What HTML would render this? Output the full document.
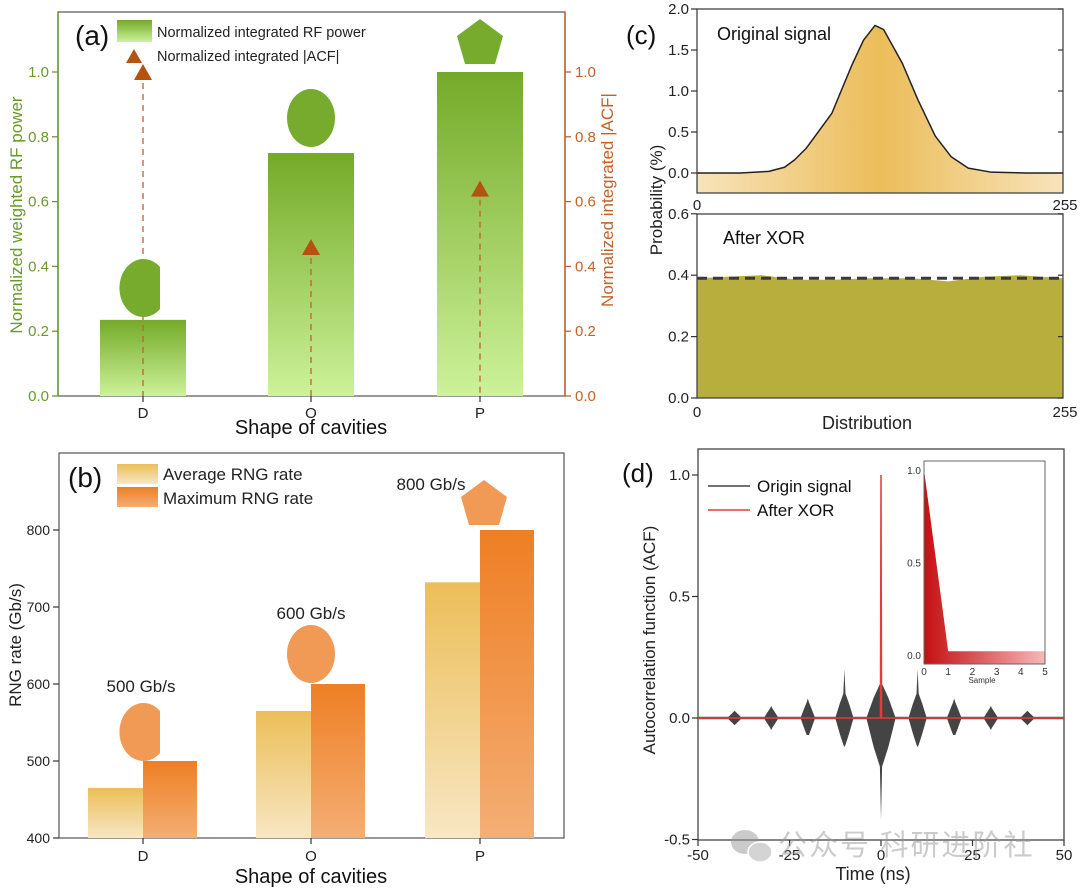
<!DOCTYPE html>
<html><head><meta charset="utf-8">
<style>
html,body{margin:0;padding:0;background:#fff;}
svg{display:block;font-family:"Liberation Sans","Noto Sans CJK SC",sans-serif;}
</style></head>
<body>
<svg id="fig" width="1080" height="889" viewBox="0 0 1080 889" xmlns="http://www.w3.org/2000/svg">
<defs>
<linearGradient id="gGreen" x1="0" y1="0" x2="0" y2="1"><stop offset="0" stop-color="#74aa28"/><stop offset="1" stop-color="#cdf29a"/></linearGradient>
<linearGradient id="gAvg" x1="0" y1="0" x2="0" y2="1"><stop offset="0" stop-color="#ebbe58"/><stop offset="1" stop-color="#f8e7c4"/></linearGradient>
<linearGradient id="gMax" x1="0" y1="0" x2="0" y2="1"><stop offset="0" stop-color="#ee7f24"/><stop offset="1" stop-color="#f4ae74"/></linearGradient>
<linearGradient id="gGauss" x1="0" y1="0" x2="1" y2="0"><stop offset="0" stop-color="#f7e4bb"/><stop offset="0.5" stop-color="#ebbd5a"/><stop offset="1" stop-color="#f7e4bb"/></linearGradient>
<linearGradient id="gRed" x1="0" y1="0" x2="1" y2="0"><stop offset="0" stop-color="#c40f12"/><stop offset="1" stop-color="#f7b8b8"/></linearGradient>
</defs>

<g>
<rect x="58" y="12" width="507" height="384" fill="none" stroke="#555" stroke-width="1.2"/>
<line x1="58" y1="12" x2="58" y2="396" stroke="#6a9a2a" stroke-width="1.5"/>
<line x1="565" y1="12" x2="565" y2="396" stroke="#c0622a" stroke-width="1.5"/>
<text x="75" y="45" font-size="28" fill="#111">(a)</text>
<rect x="117" y="20" width="35" height="22" fill="url(#gGreen)"/>
<text x="157" y="37" font-size="14.5" fill="#222">Normalized integrated RF power</text>
<polygon points="126,63 134,49 142,63" fill="#b4520f"/>
<text x="157" y="61" font-size="14.5" fill="#222">Normalized integrated |ACF|</text>
<text transform="translate(22,215) rotate(-90)" text-anchor="middle" font-size="17" fill="#6a9a2a">Normalized weighted RF power</text>
<text transform="translate(613,200) rotate(-90)" text-anchor="middle" font-size="17" fill="#c0622a">Normalized integrated |ACF|</text>
<text x="311" y="434" text-anchor="middle" font-size="20" fill="#111">Shape of cavities</text>
<g id="aMarks"></g>
</g>

<g>
<rect x="59" y="453" width="505" height="385" fill="none" stroke="#555" stroke-width="1.2"/>
<text x="68" y="487" font-size="28" fill="#111">(b)</text>
<rect x="117" y="464" width="41" height="20" fill="url(#gAvg)"/>
<text x="163" y="480" font-size="17" fill="#222">Average RNG rate</text>
<rect x="117" y="487" width="41" height="20" fill="url(#gMax)"/>
<text x="163" y="504" font-size="17" fill="#222">Maximum RNG rate</text>
<text transform="translate(21,645) rotate(-90)" text-anchor="middle" font-size="17" fill="#222">RNG rate (Gb/s)</text>
<text x="311" y="883" text-anchor="middle" font-size="20" fill="#111">Shape of cavities</text>
<g id="bMarks"></g>
</g>

<g>
<text x="626" y="44" font-size="26" fill="#111">(c)</text>
<text transform="translate(662,200) rotate(-90)" text-anchor="middle" font-size="17" fill="#222">Probability (%)</text>
<text x="867" y="429" text-anchor="middle" font-size="18" fill="#222">Distribution</text>
<g id="cMarks"></g>
<text x="717" y="40" font-size="18" fill="#111">Original signal</text>
<text x="723" y="244" font-size="18" fill="#111">After XOR</text>
</g>

<g>
<text x="622" y="482" font-size="26" fill="#111">(d)</text>
<text transform="translate(655,640) rotate(-90)" text-anchor="middle" font-size="17" fill="#222">Autocorrelation function (ACF)</text>
<text x="873" y="880" text-anchor="middle" font-size="18" fill="#222">Time (ns)</text>
<g id="dMarks"></g>
<line x1="708" y1="486" x2="750" y2="486" stroke="#444" stroke-width="1.5"/>
<text x="757" y="492" font-size="17" fill="#111">Origin signal</text>
<line x1="708" y1="510" x2="750" y2="510" stroke="#e83a3a" stroke-width="1.5"/>
<text x="757" y="516" font-size="17" fill="#111">After XOR</text>
<g opacity="0.5">
<ellipse cx="745" cy="842" rx="14" ry="12" fill="#999"/>
<ellipse cx="760" cy="852" rx="12" ry="10" fill="#aaa" stroke="#fff" stroke-width="1.5"/>
<text x="778" y="855" font-size="29" fill="#999" letter-spacing="2" font-family="'Noto Sans CJK SC',sans-serif">公众号  科研进阶社</text>
</g>
</g>
</svg>
<script>
// ---------- DATA ----------
const categories = ["D","O","P"];
const rfPower = [0.235, 0.75, 1.0];
const acfValues = [1.0, 0.46, 0.64];
const aTicks = [0.0,0.2,0.4,0.6,0.8,1.0];

const avgRate = [465, 565, 732];
const maxRate = [500, 600, 800];
const rateLabels = ["500 Gb/s","600 Gb/s","800 Gb/s"];
const bTicks = [400,500,600,700,800];

const origX = [0,30,50,61,68,76,84,94,108,116,124,130,143,154,166,177,189,205,230,255];
const origY = [0,0,0.02,0.07,0.16,0.3,0.49,0.73,1.32,1.62,1.8,1.75,1.34,0.89,0.45,0.2,0.06,0.01,0,0];
const xorX = [0,20,45,70,95,120,150,175,200,225,255];
const xorY = [0.39,0.395,0.4,0.385,0.385,0.39,0.39,0.38,0.395,0.4,0.39];
const xorMean = 0.39;
const cTopTicks = [0.0,0.5,1.0,1.5,2.0];
const cBotTicks = [0.0,0.2,0.4,0.6];

const burstT = [-40,-30,-20,-10,0,10,20,30,40];
const burstUp = [0.025,0.04,0.065,0.1,0.14,0.1,0.065,0.04,0.025];
const burstDown = [-0.025,-0.04,-0.07,-0.11,-0.2,-0.11,-0.07,-0.04,-0.025];
const burstSpikeUp = [0.03,0.05,0.08,0.2,0.23,0.2,0.08,0.05,0.03];
const burstSpikeDown = [-0.03,-0.05,-0.07,-0.12,-0.42,-0.12,-0.07,-0.05,-0.03];
const burstHalfWidth = [2,2,2,2.5,4,2.5,2,2,2];
const xorT = [-50,-0.15,0,0.15,50];
const xorAcf = [0,0,1,0,0];
const dXTicks = [-50,-25,0,25,50];
const dYTicks = [-0.5,0.0,0.5,1.0];
const insetS = [0,1,2,3,4,5];
const insetV = [1.0,0.02,0.02,0.02,0.02,0.02];
const insetYTicks = [0.0,0.5,1.0];
const insetXTicks = [0,1,2,3,4,5];

// ---------- helpers ----------
const NS="http://www.w3.org/2000/svg";
function mk(tag, attrs, parent){const e=document.createElementNS(NS,tag);for(const k in attrs)e.setAttribute(k,attrs[k]);parent.appendChild(e);return e;}
const catX = i => [143,311,480][i];
const ya = v => 396 - v*324;
const yb = v => 838 - (v-400)*0.77;
const xc = u => 697 + u*366/255;
const yc1 = v => 173 - v*82;
const yc2 = v => 398 - v*307;
const xd = t => 881 + t*3.66;
const yd = v => 718 - v*243;
const xi = s => 924 + s*24.2;
const yi = v => 655 - v*185;

// ---------- Panel A ----------
const A=document.getElementById('aMarks');
aTicks.forEach(v=>{
  const t=mk('line',{x1:52,x2:58,y1:ya(v),y2:ya(v),stroke:'#6a9a2a','stroke-width':1.3},A);
  
  
  const l=mk('text',{x:49,y:ya(v)+5,'text-anchor':'end','font-size':15,fill:'#6a9a2a'},A);
  l.textContent=v.toFixed(1);
  
  
  const t2=mk('line',{x1:565,x2:571,y1:ya(v),y2:ya(v),stroke:'#c0622a','stroke-width':1.3},A);
  
  
  const l2=mk('text',{x:575,y:ya(v)+5,'font-size':15,fill:'#c0622a'},A);
  l2.textContent=v.toFixed(1);
  
  
});
categories.forEach((c,i)=>{
  const b=mk('rect',{x:catX(i)-43,y:ya(rfPower[i]),width:86,height:ya(0)-ya(rfPower[i]),fill:'url(#gGreen)'},A);
  
  
  const dl=mk('line',{x1:catX(i),x2:catX(i),y1:ya(acfValues[i]),y2:ya(0),stroke:'#c0622a','stroke-width':1.3,'stroke-dasharray':'6,5'},A);
  
  
  const y=ya(acfValues[i]);
  const tr=mk('polygon',{points:`${catX(i)-9},${y+8} ${catX(i)},${y-8} ${catX(i)+9},${y+8}`,fill:'#b4520f'},A);
  
  
  const tk=mk('line',{x1:catX(i),x2:catX(i),y1:396,y2:402,stroke:'#333','stroke-width':1.2},A);
  
  
  const tl=mk('text',{x:catX(i),y:418,'text-anchor':'middle','font-size':15,fill:'#222'},A);
  tl.textContent=c;
  
  
});
function drawShapes(G, ys, color, prefix){
  const cx0=catX(0)-2, cy0=ys[0];
  const d=mk('path',{d:`M ${cx0+19} ${cy0-21} A 24 29 0 1 0 ${cx0+19} ${cy0+21} Z`,fill:color},G);
  
  
  const o=mk('ellipse',{cx:catX(1),cy:ys[1],rx:24,ry:29,fill:color},G);
  
  
  const px=catX(2)+ (prefix==='b'?4:0), py=ys[2];
  const p=mk('polygon',{points:`${px},${py-23} ${px+23},${py-6} ${px+15},${py+22} ${px-15},${py+22} ${px-23},${py-6}`,fill:color},G);
  
  
}
drawShapes(A,[288,118,42],'#76ab2e','a');

// ---------- Panel B ----------
const B=document.getElementById('bMarks');
bTicks.forEach(v=>{
  const t=mk('line',{x1:53,x2:59,y1:yb(v),y2:yb(v),stroke:'#333','stroke-width':1.2},B);
  
  
  const l=mk('text',{x:50,y:yb(v)+5,'text-anchor':'end','font-size':14,fill:'#222'},B);
  l.textContent=v;
  
  
});
categories.forEach((c,i)=>{
  const a=mk('rect',{x:catX(i)-55,y:yb(avgRate[i]),width:55,height:yb(400)-yb(avgRate[i]),fill:'url(#gAvg)'},B);
  
  
  const m=mk('rect',{x:catX(i),y:yb(maxRate[i]),width:54,height:yb(400)-yb(maxRate[i]),fill:'url(#gMax)'},B);
  
  
  const tk=mk('line',{x1:catX(i),x2:catX(i),y1:838,y2:844,stroke:'#333','stroke-width':1.2},B);
  
  
  const tl=mk('text',{x:catX(i),y:861,'text-anchor':'middle','font-size':15,fill:'#222'},B);
  tl.textContent=c;
  
  
});
const rlPos=[[141,692],[311,619],[431,490]];
rateLabels.forEach((s,i)=>{
  const t=mk('text',{x:rlPos[i][0],y:rlPos[i][1],'text-anchor':'middle','font-size':17,fill:'#222'},B);
  t.textContent=s;
  
  
});
drawShapes(B,[732,654,503],'#f09a55','b');

// ---------- Panel C ----------
const C=document.getElementById('cMarks');
let pts=`${xc(0)},${yc1(-0.25)} `+origX.map((u,i)=>`${xc(u)},${yc1(origY[i])}`).join(' ')+` ${xc(255)},${yc1(-0.25)}`;
const gf=mk('polygon',{points:pts,fill:'url(#gGauss)'},C);


const gl=mk('polyline',{points:origX.map((u,i)=>`${xc(u)},${yc1(origY[i])}`).join(' '),fill:'none',stroke:'#222','stroke-width':1.5,'stroke-linejoin':'round'},C);


const f1=mk('rect',{x:697,y:9,width:366,height:184,fill:'none',stroke:'#444','stroke-width':1.3},C);


cTopTicks.forEach(v=>{
  const t=mk('line',{x1:691,x2:697,y1:yc1(v),y2:yc1(v),stroke:'#333','stroke-width':1.2},C);
  
  
  const r=mk('line',{x1:1058,x2:1063,y1:yc1(v),y2:yc1(v),stroke:'#333','stroke-width':1.2},C);
  
  
  const l=mk('text',{x:689,y:yc1(v)+5,'text-anchor':'end','font-size':15,fill:'#222'},C);
  l.textContent=v.toFixed(1);
  
  
});
let pts2=`${xc(0)},${yc2(0)} `+xorX.map((u,i)=>`${xc(u)},${yc2(xorY[i])}`).join(' ')+` ${xc(255)},${yc2(0)}`;
const xf=mk('polygon',{points:pts2,fill:'#b8ae3e'},C);


const ml=mk('line',{x1:xc(0),x2:xc(255),y1:yc2(xorMean),y2:yc2(xorMean),stroke:'#3a3a3a','stroke-width':3,'stroke-dasharray':'10,6'},C);


const f2=mk('rect',{x:697,y:214,width:366,height:184,fill:'none',stroke:'#444','stroke-width':1.3},C);


cBotTicks.forEach(v=>{
  const t=mk('line',{x1:691,x2:697,y1:yc2(v),y2:yc2(v),stroke:'#333','stroke-width':1.2},C);
  
  
  const r=mk('line',{x1:1058,x2:1063,y1:yc2(v),y2:yc2(v),stroke:'#333','stroke-width':1.2},C);
  
  
  const l=mk('text',{x:689,y:yc2(v)+5,'text-anchor':'end','font-size':15,fill:'#222'},C);
  l.textContent=v.toFixed(1);
  
  
});
[[0,210],[0,417]].forEach((p,k)=>{
  const l=mk('text',{x:xc(0),y:p[1],'text-anchor':'middle','font-size':15,fill:'#222'},C);
  l.textContent='0';
  
  
  const r=mk('text',{x:xc(255)+2,y:p[1],'text-anchor':'middle','font-size':15,fill:'#222'},C);
  r.textContent='255';
  
  
});

// ---------- Panel D ----------
const D=document.getElementById('dMarks');
const f3=mk('rect',{x:698,y:449,width:366,height:391,fill:'none',stroke:'#444','stroke-width':1.3},D);


const base=mk('line',{x1:xd(-50),x2:xd(50),y1:yd(0),y2:yd(0),stroke:'#555','stroke-width':2.5},D);


burstT.forEach((c,i)=>{
  const w=burstHalfWidth[i],u=burstUp[i],d=burstDown[i];
  const P=[[c-w,0],[c-w*0.5,u*0.6],[c-0.3,u],[c,burstSpikeUp[i]],[c+0.3,u],[c+w*0.5,u*0.6],[c+w,0],[c+w*0.5,d*0.6],[c+0.3,d],[c,burstSpikeDown[i]],[c-0.3,d],[c-w*0.5,d*0.6]];
  const b=mk('polygon',{points:P.map(p=>`${xd(p[0])},${yd(p[1])}`).join(' '),fill:'#444'},D);
  
  
});
const xr=mk('polyline',{points:xorT.map((t,i)=>`${xd(t)},${yd(xorAcf[i])}`).join(' '),fill:'none',stroke:'#e83a3a','stroke-width':1.5},D);


dYTicks.forEach(v=>{
  const t=mk('line',{x1:692,x2:698,y1:yd(v),y2:yd(v),stroke:'#333','stroke-width':1.2},D);
  
  
  const l=mk('text',{x:690,y:yd(v)+5,'text-anchor':'end','font-size':15,fill:'#222'},D);
  l.textContent=v.toFixed(1);
  
  
});
dXTicks.forEach(v=>{
  const t=mk('line',{x1:xd(v),x2:xd(v),y1:840,y2:846,stroke:'#333','stroke-width':1.2},D);
  
  
  const l=mk('text',{x:xd(v),y:860,'text-anchor':'middle','font-size':15,fill:'#222'},D);
  l.textContent=v;
  
  
});
const ipts=`${xi(0)},${yi(-0.05)} `+insetS.map((s,i)=>`${xi(s)},${yi(insetV[i])}`).join(' ')+` ${xi(5)},${yi(-0.05)}`;
const ifl=mk('polygon',{points:ipts,fill:'url(#gRed)'},D);


const ifr=mk('rect',{x:924,y:461,width:121,height:203,fill:'none',stroke:'#666','stroke-width':1},D);


insetYTicks.forEach(v=>{
  const l=mk('text',{x:921,y:yi(v)+4,'text-anchor':'end','font-size':10,fill:'#333'},D);
  l.textContent=v.toFixed(1);
  
  
});
insetXTicks.forEach(v=>{
  const l=mk('text',{x:xi(v),y:675,'text-anchor':'middle','font-size':10,fill:'#333'},D);
  l.textContent=v;
  
  
});
const isl=mk('text',{x:982,y:683,'text-anchor':'middle','font-size':8,fill:'#333'},D);
isl.textContent='Sample';


</script>
</body></html>
